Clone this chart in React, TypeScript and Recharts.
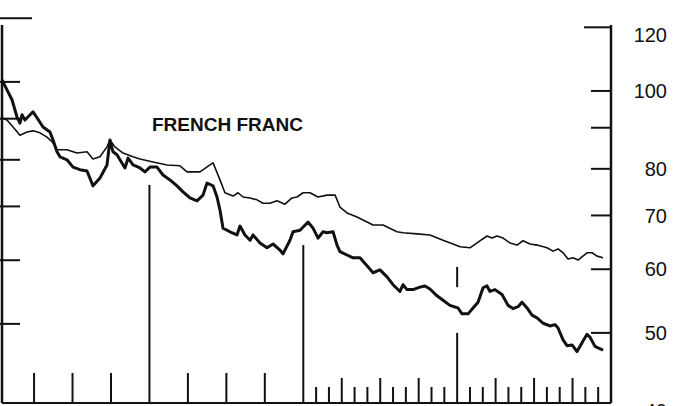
import { LineChart, Line, XAxis, YAxis, ReferenceLine } from 'recharts';

// months from the left edge of the chart (year boundaries at 12, 24, 36, 48)
const thickMonths = [
  0.5, 0.89, 1.28, 1.67, 1.9, 2.06, 2.29, 2.92, 3.23, 3.7, 4.24, 4.48, 4.79, 5.02, 5.57, 6.04, 6.58, 7.13, 7.6, 8.14,
  8.69, 8.92, 9.16, 9.47, 10.09, 10.33, 10.72, 11.26, 11.65, 12.04, 12.59, 13.06, 13.6, 14.15, 14.62, 15.16, 15.71,
  16.18, 16.49, 16.96, 17.27, 17.5, 17.74, 18.28, 18.83, 19.06, 19.45, 19.85, 20.08, 20.62, 21.17, 21.64, 22.18, 22.42,
  22.96, 23.2, 23.74, 24.37, 24.76, 25.15, 25.54, 25.85, 26.32, 26.63, 26.86, 27.41, 27.88, 28.42, 28.97, 29.44, 29.98,
  30.53, 31.0, 31.54, 31.78, 32.09, 32.56, 33.1, 33.49, 33.88, 34.43, 34.9, 35.44, 36.07, 36.38, 36.85, 37.24, 37.63,
  38.02, 38.33, 38.56, 38.95, 39.5, 39.97, 40.36, 40.75, 41.06, 41.45, 41.84, 42.23, 42.7, 43.24, 43.63, 43.87, 44.26,
  44.57, 44.96, 45.35, 45.74, 46.13, 46.36, 46.75, 46.99, 47.38,
];
const thickValues = [
  103.2, 100.3, 97.5, 92.8, 91.2, 93.4, 92.0, 94.2, 92.6, 90.2, 88.9, 86.9, 84.0, 82.8, 82.1, 80.4, 79.8, 79.5, 76.2,
  77.9, 80.9, 86.9, 84.0, 83.3, 80.2, 82.5, 80.9, 80.2, 79.3, 80.4, 80.4, 78.6, 77.5, 76.2, 74.9, 73.6, 73.0, 74.2, 76.8,
  76.2, 73.8, 71.1, 67.5, 66.8, 66.2, 67.9, 66.2, 65.2, 66.2, 64.7, 63.8, 64.5, 63.4, 62.7, 65.2, 66.8, 67.1, 68.7, 67.5,
  65.6, 66.8, 66.6, 66.8, 64.3, 63.1, 62.5, 62.0, 62.0, 60.6, 59.4, 59.9, 58.7, 57.4, 56.3, 57.4, 56.6, 56.6, 57.0, 57.2,
  56.7, 55.6, 54.9, 54.1, 53.7, 52.8, 52.8, 53.7, 54.6, 56.9, 57.2, 56.3, 56.6, 55.8, 54.1, 53.6, 53.9, 54.6, 53.7, 52.6,
  52.2, 51.4, 51.0, 51.2, 50.7, 49.0, 48.2, 48.3, 47.4, 48.6, 49.8, 49.4, 48.1, 47.9, 47.6,
];

const thinMonths = [
  0.5, 0.89, 1.36, 1.9, 2.45, 2.92, 3.46, 4.01, 4.48, 4.79, 5.02, 5.57, 6.35, 7.13, 7.6, 8.14, 8.69, 8.92, 9.31, 9.94,
  10.72, 11.26, 12.28, 13.37, 14.38, 14.93, 15.94, 16.72, 16.96, 17.5, 17.89, 18.52, 18.91, 19.3, 19.84, 20.39, 20.86,
  21.4, 21.95, 22.57, 23.12, 23.51, 23.98, 24.52, 25.15, 25.85, 26.48, 26.86, 27.41, 28.19, 28.97, 29.44, 30.22, 31.31,
  31.78, 32.87, 33.88, 34.9, 35.68, 36.22, 37.0, 37.55, 38.33, 38.72, 39.11, 39.58, 40.12, 40.67, 41.14, 41.68, 42.23,
  43.01, 43.48, 43.87, 44.26, 44.65, 45.04, 45.43, 46.13, 46.52, 46.91, 47.38,
];
const thinValues = [
  92.6, 92.0, 90.2, 88.1, 88.9, 89.2, 88.7, 87.6, 86.2, 84.5, 84.5, 84.5, 83.7, 84.0, 82.3, 82.8, 85.2, 86.9, 85.2, 83.7,
  82.8, 82.3, 81.6, 80.9, 80.7, 79.3, 79.3, 80.9, 81.4, 77.5, 74.7, 74.0, 74.7, 73.8, 73.6, 73.2, 72.5, 72.5, 73.0, 72.3,
  73.6, 73.8, 74.7, 74.7, 73.8, 74.2, 74.2, 71.7, 70.5, 69.7, 68.7, 68.1, 68.1, 66.8, 66.6, 66.4, 66.2, 65.2, 64.5, 64.0,
  63.8, 64.7, 66.0, 65.6, 66.0, 65.6, 64.7, 64.3, 65.1, 64.5, 64.3, 63.8, 63.2, 63.6, 62.9, 61.8, 62.0, 61.6, 62.9, 62.9,
  62.3, 62.0,
];

const rightTicks = [120, 100, 90, 80, 70, 60, 50, 40];
const rightLabels = ['120', '100', '', '80', '70', '60', '50', '40'];
const leftTicks = [120, 100, 90, 80, 70, 60, 50];
const xTicks = [3, 6, 9, 15, 18, 21, 25, 26, 27, 28, 29, 30, 31, 32, 33, 34, 35, 37, 38, 39, 40, 41, 42, 43, 44, 45, 46, 47];

// year divider lines: month, and the value ranges they cover
const yearMarks = [
  { m: 12, from: 76.4, to: 40.9 },
  { m: 24, from: 64.3, to: 40.9 },
  { m: 36, from: 50.0, to: 40.9 },
  { m: 36, from: 60.4, to: 57.0 },
];

const thickData = thickMonths.map((m, i) => ({ m, v: thickValues[i] }));
const thinData = thinMonths.map((m, i) => ({ m, v: thinValues[i] }));

const FONT = '"Liberation Sans", Arial, Helvetica, sans-serif';
const INK = '#111';

const RightTick = (props: any) => {
  const { x, y, payload } = props;
  const i = rightTicks.indexOf(payload.value);
  const label = rightLabels[i];
  const dy = payload.value === 120 ? 7 : 0;
  return (
    <g>
      {payload.value !== 40 && (
        <line x1={x - (payload.value === 120 ? 27 : 20)} x2={x} y1={y} y2={y} stroke={INK} strokeWidth={2} />
      )}
      <text x={x + 56} y={y + dy} dy="0.36em" textAnchor="end" fontFamily={FONT} fontSize={20} fill={INK}>
        {label}
      </text>
    </g>
  );
};

const LeftTick = (props: any) => {
  const { x, y, payload } = props;
  const len = payload.value === 120 ? 30 : 18;
  return <line x1={x - 2} x2={x + len} y1={y} y2={y} stroke={INK} strokeWidth={2} />;
};

const BottomTick = (props: any) => {
  const { x, y, payload } = props;
  const m = payload.value;
  const h = m < 24 ? 30 : m % 3 === 0 ? 25 : 16;
  return <line x1={x} x2={x} y1={y} y2={y - h} stroke={INK} strokeWidth={2} />;
};

export default function App() {
  return (
    <div style={{ position: 'absolute', left: 0, top: 0, width: 700, height: 406, background: '#fff' }}>
      <LineChart width={700} height={406} margin={{ top: 25, right: 0, bottom: 0, left: 0 }}>
        <XAxis
          dataKey="m"
          type="number"
          domain={[0.5, 48]}
          allowDataOverflow
          ticks={xTicks}
          interval={0}
          height={3}
          tickSize={0}
          tickMargin={0}
          tick={<BottomTick />}
          tickLine={false}
          axisLine={{ stroke: INK, strokeWidth: 2 }}
        />
        <YAxis
          yAxisId="left"
          orientation="left"
          scale="log"
          type="number"
          domain={[39.86, 117.7]}
          allowDataOverflow
          ticks={leftTicks}
          interval={0}
          width={2}
          tickSize={0}
          tickMargin={0}
          tick={<LeftTick />}
          tickLine={false}
          axisLine={{ stroke: INK, strokeWidth: 2.5 }}
        />
        <YAxis
          yAxisId="right"
          orientation="right"
          scale="log"
          type="number"
          domain={[40.9, 120.8]}
          allowDataOverflow
          ticks={rightTicks}
          interval={0}
          width={89}
          tickSize={0}
          tickMargin={0}
          tick={<RightTick />}
          tickLine={false}
          axisLine={{ stroke: INK, strokeWidth: 2.5 }}
        />
        {yearMarks.map((ym, i) => (
          <ReferenceLine
            key={i}
            yAxisId="right"
            segment={[
              { x: ym.m, y: ym.from },
              { x: ym.m, y: ym.to },
            ]}
            stroke={INK}
            strokeWidth={2}
            ifOverflow="visible"
          />
        ))}
        <Line
          yAxisId="right"
          data={thinData}
          dataKey="v"
          type="linear"
          stroke={INK}
          strokeWidth={1.6}
          dot={false}
          isAnimationActive={false}
          strokeLinejoin="round"
        />
        <Line
          yAxisId="right"
          data={thickData}
          dataKey="v"
          type="linear"
          stroke={INK}
          strokeWidth={3}
          dot={false}
          isAnimationActive={false}
          strokeLinejoin="round"
        />
      </LineChart>
      <div
        style={{
          position: 'absolute',
          left: 152,
          top: 115,
          fontFamily: FONT,
          fontWeight: 'bold',
          fontSize: 19,
          lineHeight: '19px',
          color: INK,
          whiteSpace: 'nowrap',
        }}
      >
        FRENCH FRANC
      </div>
    </div>
  );
}
